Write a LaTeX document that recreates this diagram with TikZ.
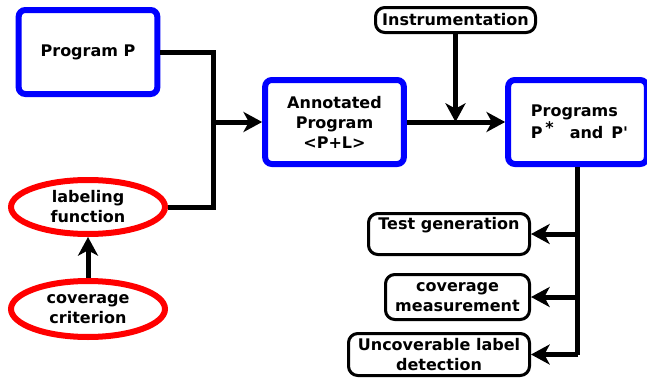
\documentclass[tikz,border=0pt]{standalone}
\usepackage{fontspec}
\setmainfont{DejaVu Sans}
\usetikzlibrary{arrows.meta,shapes.geometric,positioning}

\begin{document}
\begin{tikzpicture}[x=0.75pt,y=-0.75pt,line width=3.75pt,
    >={Stealth[length=14pt,width=15pt,inset=4pt]},
    font=\fontsize{12}{15}\selectfont\bfseries,
    prog node/.style={rectangle,draw=blue,line width=4.5pt,rounded corners=5pt,
      minimum width=104pt,minimum height=63pt,align=center},
    func node/.style={ellipse,draw=red,line width=4.5pt,inner sep=0pt,
      minimum width=115.5pt,align=center},
    tool node/.style={rectangle,draw=black,line width=2.25pt,rounded corners=7pt,
      align=center,inner sep=0pt}]

    \useasboundingbox (0,0) rectangle (647,382);

    \node[prog node] (prog) at (88,52) {Program P};
    \node[prog node] (annot) at (334.5,122) {Annotated\\Program\\<P+L>};
    \node[prog node,align=left] (progs) at (577.5,122)
      {\hspace*{3pt}Programs\\\hspace*{3pt}P\hspace{2pt}\raisebox{4pt}{*}\hspace{12pt}and\hspace{6pt}P\textquotesingle};
    \node[tool node,minimum width=120pt,minimum height=18.75pt] (instr) at (455.5,20) {Instrumentation};

    \node[func node,minimum height=40.5pt] (label) at (88,207) {labeling\\function};
    \node[func node,minimum height=42pt] (crit) at (88,309) {coverage\\criterion};

    \node[tool node,minimum width=120.75pt,minimum height=30.75pt,
      text height=8.7pt,text depth=15pt] (test) at (449,234) {Test generation};
    \node[tool node,minimum width=108pt,minimum height=33.75pt] (meas) at (457.5,297) {coverage\\measurement};
    \node[tool node,minimum width=135.75pt,minimum height=31.5pt] (unc) at (439,354.5) {Uncoverable label\\detection};

    % inputs of the labeling step
    \coordinate (join) at (213,122);
    \draw (prog.east) -| (join) |- (label.east);
    \draw[->] (join) -- (annot.west);
    \draw[->] (crit.north) -- (label.south);

    % instrumentation
    \draw[->] (annot.east) -- (progs.west);
    \draw[->] (instr.south) -- (instr.south |- annot.east);

    % uses of the instrumented programs
    \draw (progs.south) -- (progs.south |- unc.east);
    \draw[->] (progs.south |- test.east) -- (test.east);
    \draw[->] (progs.south |- meas.east) -- (meas.east);
    \draw[->] (progs.south |- unc.east) -- (unc.east);
  \end{tikzpicture}
\end{document}
